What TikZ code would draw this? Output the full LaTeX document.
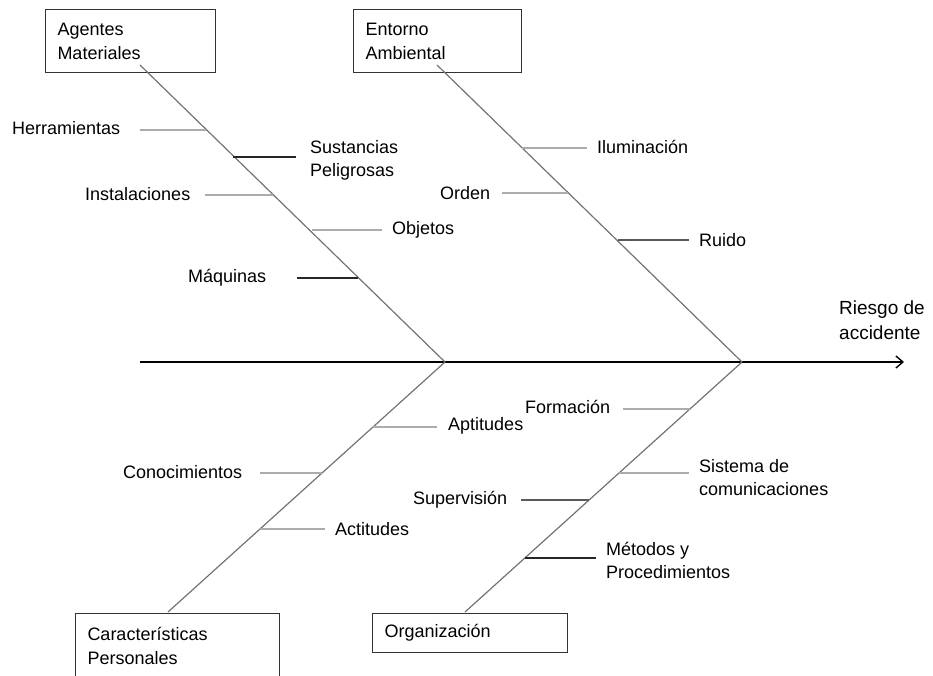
\documentclass[tikz,border=0pt]{standalone}
\usepackage{fontspec}
\setmainfont{Liberation Sans}
\usetikzlibrary{arrows.meta}
\begin{document}
\begin{tikzpicture}[x=1pt,y=-1pt,
  catbox/.style={draw=black!80, line width=1pt, align=left, inner xsep=12pt, font=\fontsize{18}{24}\selectfont},
  lbl/.style={inner sep=0pt, align=left, font=\fontsize{18}{23}\selectfont},
  bone/.style={draw=black!55, line width=1.2pt},
  gbranch/.style={draw=gray!65, line width=1.6pt},
  kbranch/.style={draw=black!85, line width=1.2pt},
  spine/.style={draw=black, line width=1.4pt, -{Straight Barb[length=7pt,width=12pt]}}]
\useasboundingbox (0,0) rectangle (933,675);

% category boxes
\node[catbox, anchor=north west, minimum width=170pt, minimum height=63pt, text width=146pt] (am) at (45,9) {Agentes\\Materiales};
\node[catbox, anchor=north west, minimum width=168pt, minimum height=63pt, text width=144pt] (ea) at (353,9) {Entorno\\Ambiental};
\node[catbox, anchor=north west, minimum width=204pt, minimum height=64pt, inner ysep=8pt, text width=180pt] (cp) at (75,613) {Características\\Personales};
\node[catbox, anchor=north west, minimum width=195pt, minimum height=39pt, text width=171pt] (og) at (372,613) {Organización};

% spine points
\coordinate (tail) at (140,362);
\coordinate (head) at (904,362);
\coordinate (j1) at (445,362);
\coordinate (j2) at (742,362);
\coordinate (tl) at (140,65);
\coordinate (tr) at (437,65);
\coordinate (bl) at (168,612);
\coordinate (br) at (465,612);

\draw[spine] (tail) -- (head);
\draw[bone] (tl) -- (j1);
\draw[bone] (tr) -- (j2);
\draw[bone] (j1) -- (bl);
\draw[bone] (j2) -- (br);

% effect label
\node[lbl, anchor=west, font=\fontsize{19}{25}\selectfont] (rd) at (839,320.5) {Riesgo de\\accidente};

% top-left branches
\node[lbl, anchor=west] (herr) at (12,128) {Herramientas};
\draw[gbranch] (140,130) -- (206,130);
\node[lbl, anchor=west] (sust) at (310,160) {Sustancias\\Peligrosas};
\draw[kbranch] (233,157) -- (296,157);
\node[lbl, anchor=west] (inst) at (85,194) {Instalaciones};
\draw[gbranch] (205,195) -- (273,195);
\node[lbl, anchor=west] (obj) at (392,230) {Objetos};
\draw[gbranch] (312,230) -- (382,230);
\node[lbl, anchor=west] (maq) at (188,278) {Máquinas};
\draw[kbranch] (297,278) -- (358,278);

% top-right branches
\node[lbl, anchor=west] (ilum) at (597,147) {Iluminación};
\draw[gbranch] (522,148) -- (587,148);
\node[lbl, anchor=west] (ord) at (440,193) {Orden};
\draw[gbranch] (502,193) -- (568,193);
\node[lbl, anchor=west] (ruid) at (699,240) {Ruido};
\draw[kbranch, draw=black!65] (618,240) -- (689,240);

% bottom-left branches
\node[lbl, anchor=west] (apt) at (448,426) {Aptitudes};
\draw[gbranch] (373,427) -- (437,427);
\node[lbl, anchor=west] (con) at (123,472) {Conocimientos};
\draw[gbranch] (260,473) -- (322,473);
\node[lbl, anchor=west] (act) at (335,529) {Actitudes};
\draw[gbranch] (260,529) -- (325,529);

% bottom-right branches
\node[lbl, anchor=west] (form) at (525,407) {Formación};
\draw[gbranch] (623,409) -- (690,409);
\node[lbl, anchor=west] (sis) at (699,478) {Sistema de\\comunicaciones};
\draw[gbranch] (619,473) -- (689,473);
\node[lbl, anchor=west] (sup) at (413,500) {Supervisión};
\draw[kbranch, draw=black!65] (521,500) -- (589,500);
\node[lbl, anchor=west] (met) at (606,560) {Métodos y\\Procedimientos};
\draw[kbranch] (525,558) -- (596,558);
\end{tikzpicture}
\end{document}
